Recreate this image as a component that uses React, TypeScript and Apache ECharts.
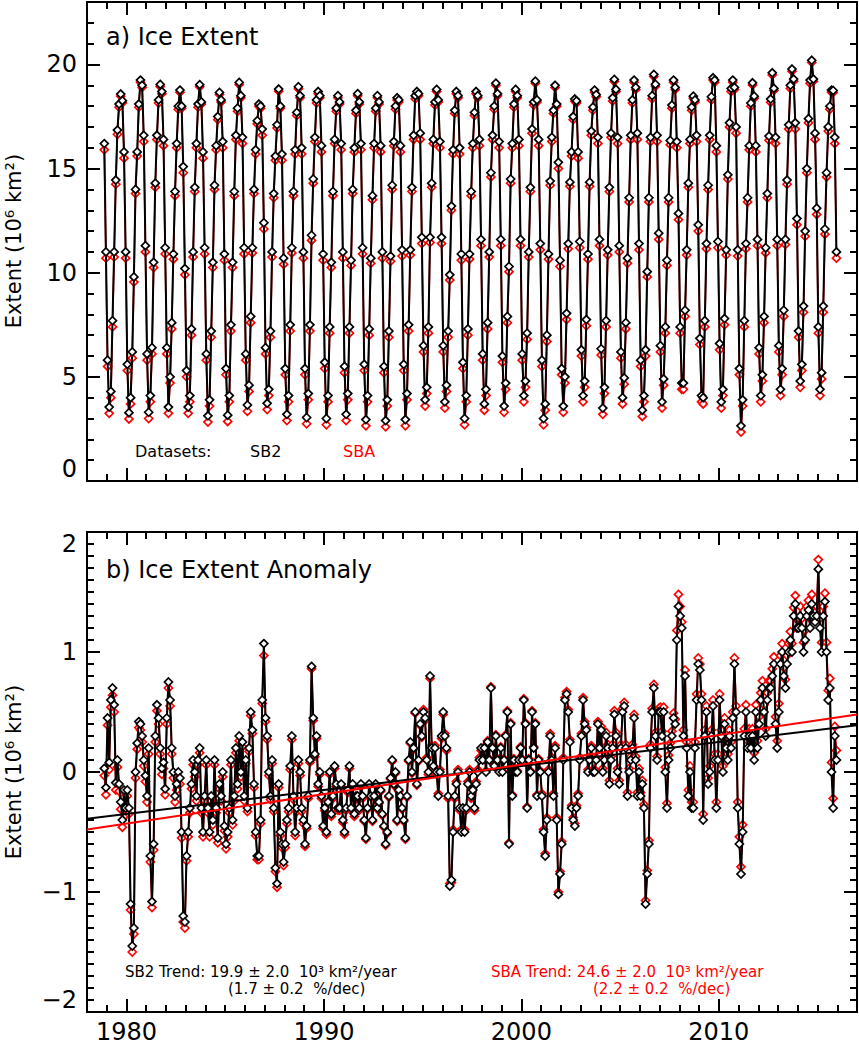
import React, { useEffect, useRef } from "react";
import * as echarts from "echarts";

// ---------------- data (monthly, Nov 1978 – Dec 2015) ----------------
const START_YEAR = 1978;
const START_MONTH_INDEX = 10; // November, 0-based

// Panel a: SB2 ice extent (10^6 km^2)
const EXTENT_SB2: number[] = [
  16.2, 11.0,
  5.8, 3.55, 4.3, 7.7, 11.0, 14.45, 16.85, 18.1, 18.58, 18.26, 15.8, 11.0,
  5.6, 3.28, 4.0, 6.2, 9.8, 14.0, 15.8, 18.1, 19.25, 19.0, 16.6, 11.3,
  6.1, 3.3, 4.1, 6.4, 10.5, 14.3, 16.6, 18.3, 19.04, 18.7, 16.4, 11.2,
  6.4, 3.55, 5.0, 7.6, 10.9, 13.9, 16.2, 18.0, 18.77, 18.0, 15.1, 10.2,
  5.3, 3.55, 4.1, 7.3, 11.0, 14.1, 16.2, 18.1, 19.03, 18.2, 15.8, 11.2,
  6.1, 3.13, 3.9, 7.2, 10.5, 14.2, 16.1, 17.5, 18.66, 18.3, 16.3, 10.9,
  5.4, 3.16, 4.1, 7.5, 10.5, 13.9, 16.6, 17.9, 19.14, 18.5, 16.5, 11.2,
  6.1, 3.65, 4.6, 7.9, 11.2, 14.0, 15.9, 17.3, 18.1, 18.0, 16.9, 12.4,
  6.4, 3.73, 4.4, 7.2, 11.0, 13.8, 15.6, 17.1, 18.82, 18.0, 15.7, 10.7,
  5.4, 3.2, 4.1, 7.5, 11.2, 13.9, 15.9, 17.7, 18.93, 18.5, 16.0, 11.0,
  5.4, 3.05, 4.2, 7.5, 11.8, 14.5, 16.5, 18.3, 18.7, 18.5, 16.1, 10.9,
  5.7, 3.0, 4.1, 7.4, 10.5, 13.9, 16.4, 17.9, 18.5, 18.2, 16.2, 11.0,
  5.5, 3.2, 4.2, 7.4, 10.6, 14.0, 16.0, 17.8, 18.6, 18.2, 16.2, 11.2,
  5.6, 2.95, 4.1, 7.3, 10.7, 13.7, 16.2, 17.9, 18.5, 18.2, 16.1, 11.0,
  5.5, 2.9, 3.9, 7.2, 10.8, 14.2, 16.3, 18.0, 18.4, 18.3, 16.1, 11.1,
  5.6, 2.95, 4.2, 7.5, 11.1, 14.1, 16.6, 18.5, 18.7, 18.6, 16.7, 11.7,
  6.5, 3.9, 4.5, 7.4, 11.7, 14.3, 16.4, 18.2, 18.8, 18.3, 16.3, 11.7,
  6.5, 3.8, 4.6, 7.2, 9.9, 13.2, 15.9, 17.8, 18.7, 18.5, 16.0, 10.9,
  5.7, 3.0, 4.1, 7.3, 10.9, 13.9, 16.2, 17.7, 18.7, 18.5, 16.4, 11.6,
  6.1, 3.7, 4.4, 7.6, 11.0, 14.8, 16.6, 18.0, 19.1, 18.6, 16.3, 11.6,
  6.0, 3.6, 4.7, 7.9, 10.3, 14.5, 16.2, 18.1, 18.8, 18.5, 16.4, 11.6,
  6.1, 4.1, 4.8, 7.1, 11.0, 14.1, 16.9, 18.2, 19.2, 18.3, 16.4, 11.4,
  5.8, 3.0, 3.7, 7.0, 10.9, 14.4, 16.5, 17.8, 19.0, 18.1, 15.3, 10.6,
  5.4, 3.6, 5.0, 8.05, 11.4, 14.35, 15.8, 17.5, 18.34, 18.25, 15.8, 11.5,
  6.3, 4.1, 4.8, 7.75, 10.9, 14.35, 16.8, 17.95, 18.77, 18.55, 16.5, 11.6,
  6.35, 3.5, 4.5, 7.7, 11.1, 14.1, 16.7, 18.4, 19.28, 18.8, 16.5, 11.3,
  6.2, 4.0, 4.95, 7.6, 10.7, 13.6, 16.6, 18.3, 19.25, 18.9, 16.7, 11.4,
  5.8, 3.4, 4.1, 6.3, 10.05, 13.6, 16.5, 18.5, 19.52, 19.05, 16.6, 11.9,
  6.5, 3.8, 4.9, 7.4, 10.6, 13.6, 16.35, 18.05, 19.25, 18.9, 16.3, 12.85,
  7.4, 4.7, 4.7, 8.2, 11.1, 14.3, 16.4, 17.95, 18.48, 18.3, 16.6, 12.3,
  6.85, 4.1, 4.0, 7.7, 11.4, 14.2, 16.6, 18.45, 19.36, 19.25, 16.1, 11.5,
  6.6, 3.8, 4.4, 7.8, 11.1, 14.7, 17.2, 18.85, 19.25, 18.9, 17.0, 11.1,
  5.4, 2.65, 3.9, 7.7, 11.4, 13.6, 16.1, 18.15, 19.12, 18.48, 16.1, 11.6,
  6.4, 4.1, 5.1, 7.9, 11.2, 13.8, 16.56, 18.34, 19.6, 18.85, 16.5, 11.6,
  6.5, 4.4, 5.4, 8.2, 11.6, 14.45, 17.1, 19.0, 19.78, 19.3, 17.2, 12.6,
  7.2, 4.8, 5.6, 8.4, 12.0, 15.0, 17.4, 19.25, 20.2, 19.3, 16.7, 13.1,
  7.4, 4.4, 5.2, 8.4, 12.1, 14.8, 17.0, 18.0, 18.77, 18.75, 16.5, 11.0,
];

// Panel a: SBA ice extent (10^6 km^2)
const EXTENT_SBA: number[] = [
  15.9, 10.7,
  5.5, 3.25, 4.0, 7.4, 10.75, 14.25, 16.65, 17.95, 18.48, 18.16, 15.5, 10.7,
  5.3, 2.98, 3.7, 5.9, 9.55, 13.8, 15.6, 17.95, 19.15, 18.9, 16.3, 11.0,
  5.8, 3.0, 3.8, 6.1, 10.25, 14.1, 16.4, 18.15, 18.94, 18.6, 16.1, 10.9,
  6.1, 3.25, 4.7, 7.3, 10.65, 13.7, 16.0, 17.85, 18.67, 17.9, 14.8, 9.9,
  5.0, 3.25, 3.8, 7.0, 10.75, 13.9, 16.0, 17.95, 18.93, 18.1, 15.5, 10.9,
  5.8, 2.83, 3.6, 6.9, 10.25, 14.0, 15.9, 17.35, 18.56, 18.2, 16.0, 10.6,
  5.1, 2.86, 3.8, 7.2, 10.25, 13.7, 16.4, 17.75, 19.04, 18.4, 16.2, 10.9,
  5.8, 3.35, 4.3, 7.6, 10.95, 13.8, 15.7, 17.15, 18.0, 17.9, 16.6, 12.1,
  6.1, 3.43, 4.1, 6.9, 10.75, 13.6, 15.4, 16.95, 18.72, 17.9, 15.4, 10.4,
  5.1, 2.9, 3.8, 7.2, 10.95, 13.7, 15.7, 17.55, 18.83, 18.4, 15.7, 10.7,
  5.1, 2.75, 3.9, 7.2, 11.55, 14.3, 16.3, 18.15, 18.6, 18.4, 15.8, 10.6,
  5.4, 2.7, 3.8, 7.1, 10.25, 13.7, 16.2, 17.75, 18.4, 18.1, 15.9, 10.7,
  5.2, 2.9, 3.9, 7.1, 10.35, 13.8, 15.8, 17.65, 18.5, 18.1, 15.9, 10.9,
  5.3, 2.65, 3.8, 7.0, 10.45, 13.5, 16.0, 17.75, 18.4, 18.1, 15.8, 10.7,
  5.2, 2.6, 3.6, 6.9, 10.55, 14.0, 16.1, 17.85, 18.3, 18.2, 15.8, 10.8,
  5.3, 2.65, 3.9, 7.2, 10.85, 13.9, 16.4, 18.35, 18.6, 18.5, 16.4, 11.4,
  6.2, 3.6, 4.2, 7.1, 11.45, 14.1, 16.2, 18.05, 18.7, 18.2, 16.0, 11.4,
  6.2, 3.5, 4.3, 6.9, 9.65, 13.0, 15.7, 17.65, 18.6, 18.4, 15.7, 10.6,
  5.4, 2.7, 3.8, 7.0, 10.65, 13.7, 16.0, 17.55, 18.6, 18.4, 16.1, 11.3,
  5.8, 3.4, 4.1, 7.3, 10.75, 14.6, 16.4, 17.85, 19.0, 18.5, 16.0, 11.3,
  5.7, 3.3, 4.4, 7.6, 10.05, 14.3, 16.0, 17.95, 18.7, 18.4, 16.1, 11.3,
  5.8, 3.8, 4.5, 6.8, 10.75, 13.9, 16.7, 18.05, 19.1, 18.2, 16.1, 11.1,
  5.5, 2.7, 3.4, 6.7, 10.65, 14.2, 16.3, 17.65, 18.9, 18.0, 15.0, 10.3,
  5.1, 3.3, 4.7, 7.75, 11.15, 14.15, 15.6, 17.35, 18.24, 18.15, 15.5, 11.2,
  6.0, 3.8, 4.5, 7.45, 10.65, 14.15, 16.6, 17.8, 18.67, 18.45, 16.2, 11.3,
  6.05, 3.2, 4.2, 7.4, 10.85, 13.9, 16.5, 18.25, 19.18, 18.7, 16.2, 11.0,
  5.9, 3.7, 4.65, 7.3, 10.45, 13.4, 16.4, 18.15, 19.15, 18.8, 16.4, 11.1,
  5.5, 3.1, 3.8, 6.0, 9.8, 13.4, 16.3, 18.35, 19.42, 18.95, 16.3, 11.6,
  6.2, 3.5, 4.6, 7.1, 10.35, 13.4, 16.15, 17.9, 19.15, 18.8, 16.0, 12.55,
  7.1, 4.4, 4.4, 7.9, 10.85, 14.1, 16.2, 17.8, 18.38, 18.2, 16.3, 12.0,
  6.55, 3.8, 3.7, 7.4, 11.15, 14.0, 16.4, 18.3, 19.26, 19.15, 15.8, 11.2,
  6.3, 3.5, 4.1, 7.5, 10.85, 14.5, 17.0, 18.7, 19.15, 18.8, 16.7, 10.8,
  5.1, 2.35, 3.6, 7.4, 11.15, 13.4, 15.9, 18.0, 19.02, 18.38, 15.8, 11.3,
  6.1, 3.8, 4.8, 7.6, 10.95, 13.6, 16.36, 18.19, 19.5, 18.75, 16.2, 11.3,
  6.2, 4.1, 5.1, 7.9, 11.35, 14.25, 16.9, 18.85, 19.68, 19.2, 16.9, 12.3,
  6.9, 4.5, 5.3, 8.1, 11.75, 14.8, 17.2, 19.1, 20.1, 19.2, 16.4, 12.8,
  7.1, 4.1, 4.9, 8.1, 11.85, 14.6, 16.8, 17.85, 18.67, 18.65, 16.2, 10.7,
];

// Panel b: SB2 extent anomaly (10^6 km^2)
const ANOMALY_SB2: number[] = [
  0.03, -0.13,
  0.45, 0.08, 0.6, 0.7, 0.56, -0.09, 0.1, -0.1, -0.25, -0.4, -0.15, -0.3,
  -0.15, -0.3, -1.1, -1.45, -1.3, 0.0, 0.24, 0.42, 0.4, 0.3, 0.1, -0.03,
  -0.2, 0.2, -0.7, -1.08, -0.6, 0.3, 0.56, 0.45, 0.2, 0.03, 0.08, -0.14,
  0.45, 0.75, 0.6, 0.2, 0.0, -0.2, -0.1, 0.0, -0.05, -0.5, -1.2, -1.25,
  -0.7, -0.5, -0.3, -0.1, 0.1, 0.0, -0.2, 0.1, 0.2, -0.3, -0.5, -0.2,
  0.1, -0.3, -0.5, -0.2, -0.4, 0.1, -0.3, -0.55, -0.1, -0.2, 0.0, -0.45,
  -0.6, -0.5, -0.3, 0.1, -0.4, -0.2, 0.2, -0.1, 0.3, 0.0, 0.25, -0.2,
  0.1, -0.3, 0.2, 0.5, 0.35, -0.1, -0.5, -0.7, -0.7, -0.4, 0.6, 1.07,
  0.45, 0.3, 0.0, -0.2, 0.1, -0.3, -0.8, -0.93, -0.1, -0.5, -0.6, -0.75,
  -0.6, -0.4, -0.3, 0.05, 0.3, -0.2, -0.5, -0.3, 0.1, 0.0, -0.3, -0.4,
  -0.6, -0.45, -0.2, 0.1, 0.88, 0.45, 0.15, 0.3, -0.1, 0.0, -0.2, -0.45,
  -0.3, -0.5, -0.25, 0.0, -0.35, -0.2, 0.05, -0.1, -0.3, -0.3, -0.1, -0.4,
  -0.5, -0.3, -0.15, 0.05, -0.3, -0.1, -0.35, -0.2, -0.2, -0.3, -0.1, -0.2,
  -0.4, -0.55, -0.3, -0.1, -0.2, -0.4, -0.2, -0.1, -0.3, -0.25, -0.15, -0.35,
  -0.45, -0.6, -0.5, -0.2, -0.05, 0.1, -0.1, 0.0, -0.4, -0.15, -0.2, -0.3,
  -0.4, -0.55, -0.2, 0.1, 0.25, 0.0, 0.2, 0.5, -0.1, 0.1, 0.4, 0.3,
  0.5, 0.45, 0.1, 0.0, 0.8, 0.2, 0.05, 0.2, 0.0, -0.2, 0.0, 0.3,
  0.5, 0.3, 0.2, -0.2, -0.95, -0.9, -0.5, -0.2, -0.1, 0.0, -0.3, -0.5,
  -0.3, -0.5, -0.3, -0.1, 0.0, -0.2, -0.15, -0.3, -0.1, 0.0, 0.1, 0.2,
  0.1, 0.2, 0.0, 0.25, 0.1, 0.7, 0.2, 0.05, 0.3, 0.1, 0.0, 0.2,
  0.0, 0.1, 0.3, 0.5, -0.6, 0.4, -0.2, 0.1, 0.0, 0.0, 0.1, 0.2,
  0.1, 0.6, 0.4, -0.3, 0.1, 0.0, 0.5, 0.2, 0.4, -0.2, 0.1, 0.0,
  -0.2, -0.5, -0.7, -0.4, 0.0, 0.3, 0.1, -0.2, 0.2, -0.4, -1.02, -0.85,
  -0.6, 0.1, 0.6, 0.65, 0.5, 0.25, -0.3, -0.4, -0.45, -0.3, -0.2, 0.1,
  0.3, 0.6, 0.4, 0.35, 0.0, 0.1, 0.2, 0.0, 0.0, 0.1, 0.4, 0.2,
  0.35, 0.0, 0.1, 0.3, 0.2, -0.1, 0.1, 0.2, 0.48, 0.3, 0.0, -0.1,
  0.2, 0.5, 0.55, 0.2, -0.2, 0.0, 0.1, 0.2, 0.45, 0.1, -0.2, 0.0,
  -0.2, -0.1, -0.3, -1.1, -0.85, -0.6, 0.2, 0.5, 0.7, 0.3, 0.1, 0.5,
  0.5, 0.3, 0.5, 0.0, -0.3, 0.1, 0.2, 0.3, 0.45, 0.4, 1.1, 1.38,
  1.3, 1.2, 0.3, 0.8, 0.2, -0.2, 0.0, -0.3, -0.3, 0.2, 0.6, 0.9,
  0.85, 0.6, -0.4, 0.3, 0.5, -0.1, 0.0, 0.3, 0.55, 0.1, -0.3, 0.1,
  0.6, 0.3, 0.0, 0.4, 0.2, 0.1, 0.3, 0.2, 0.45, 0.9, 0.5, -0.3,
  -0.6, -0.85, -0.5, 0.3, 0.5, 0.2, 0.3, 0.2, 0.3, 0.1, 0.5, 0.2,
  0.4, 0.6, 0.7, 0.5, 0.3, 0.6, 0.7, 0.7, 0.8, 0.9, 0.4, 0.2,
  0.5, 0.9, 1.0, 0.8, 0.7, 0.9, 1.0, 1.1, 1.0, 1.3, 1.4, 1.2,
  1.2, 1.3, 1.2, 1.0, 1.1, 1.3, 1.35, 1.2, 1.4, 1.3, 1.25, 1.3,
  1.69, 1.2, 1.0, 1.3, 1.42, 1.0, 0.6, 0.7, 0.0, -0.3, 0.3, 0.1,
];

// Panel b: SBA extent anomaly (10^6 km^2)
const ANOMALY_SBA: number[] = [
  -0.03, -0.19,
  0.39, 0.02, 0.54, 0.64, 0.5, -0.15, 0.04, -0.16, -0.31, -0.46, -0.21, -0.36,
  -0.2, -0.35, -1.15, -1.5, -1.35, -0.05, 0.19, 0.37, 0.35, 0.25, 0.05, -0.08,
  -0.25, 0.15, -0.75, -1.13, -0.65, 0.25, 0.51, 0.4, 0.15, -0.02, 0.03, -0.19,
  0.4, 0.7, 0.55, 0.15, -0.05, -0.25, -0.15, -0.05, -0.1, -0.55, -1.25, -1.3,
  -0.74, -0.54, -0.34, -0.14, 0.06, -0.04, -0.24, 0.06, 0.16, -0.34, -0.54, -0.24,
  0.06, -0.34, -0.54, -0.24, -0.44, 0.06, -0.34, -0.59, -0.14, -0.24, -0.04, -0.49,
  -0.64, -0.54, -0.34, 0.06, -0.44, -0.24, 0.16, -0.14, 0.26, -0.04, 0.21, -0.24,
  0.07, -0.33, 0.17, 0.47, 0.32, -0.13, -0.53, -0.73, -0.73, -0.43, 0.57, 0.97,
  0.42, 0.27, -0.03, -0.23, 0.07, -0.33, -0.83, -0.96, -0.13, -0.53, -0.63, -0.78,
  -0.63, -0.43, -0.33, 0.02, 0.27, -0.23, -0.53, -0.33, 0.07, -0.03, -0.33, -0.43,
  -0.62, -0.47, -0.22, 0.08, 0.86, 0.43, 0.13, 0.28, -0.12, -0.02, -0.22, -0.47,
  -0.32, -0.52, -0.27, -0.02, -0.37, -0.22, 0.03, -0.12, -0.32, -0.32, -0.12, -0.42,
  -0.52, -0.32, -0.17, 0.03, -0.32, -0.12, -0.37, -0.22, -0.22, -0.32, -0.12, -0.22,
  -0.41, -0.56, -0.31, -0.11, -0.21, -0.41, -0.21, -0.11, -0.31, -0.26, -0.16, -0.36,
  -0.46, -0.61, -0.51, -0.21, -0.06, 0.09, -0.11, -0.01, -0.41, -0.16, -0.21, -0.31,
  -0.41, -0.56, -0.21, 0.09, 0.24, -0.01, 0.19, 0.49, -0.11, 0.09, 0.39, 0.29,
  0.52, 0.43, 0.12, -0.02, 0.78, 0.22, 0.03, 0.22, -0.02, -0.18, 0.02, 0.28,
  0.48, 0.32, 0.18, -0.22, -0.93, -0.92, -0.48, -0.22, -0.08, 0.02, -0.32, -0.48,
  -0.32, -0.48, -0.32, -0.08, 0.02, -0.22, -0.13, -0.32, -0.08, 0.02, 0.12, 0.18,
  0.11, 0.21, 0.01, 0.26, 0.11, 0.71, 0.21, 0.06, 0.31, 0.11, 0.01, 0.21,
  0.01, 0.11, 0.31, 0.51, -0.59, 0.41, -0.19, 0.11, 0.01, 0.01, 0.11, 0.21,
  0.11, 0.61, 0.41, -0.29, 0.11, 0.01, 0.51, 0.21, 0.41, -0.19, 0.11, 0.01,
  -0.18, -0.48, -0.68, -0.38, 0.02, 0.32, 0.12, -0.18, 0.22, -0.38, -1.0, -0.83,
  -0.58, 0.12, 0.62, 0.67, 0.52, 0.27, -0.28, -0.38, -0.43, -0.28, -0.18, 0.12,
  0.32, 0.62, 0.42, 0.37, 0.02, 0.12, 0.22, 0.02, 0.02, 0.12, 0.42, 0.22,
  0.38, 0.03, 0.13, 0.33, 0.23, -0.07, 0.13, 0.23, 0.51, 0.33, 0.03, -0.07,
  0.23, 0.53, 0.58, 0.23, -0.17, 0.03, 0.13, 0.23, 0.48, 0.13, -0.17, 0.03,
  -0.17, -0.07, -0.27, -1.07, -0.82, -0.57, 0.23, 0.53, 0.73, 0.33, 0.13, 0.53,
  0.54, 0.34, 0.54, 0.04, -0.26, 0.14, 0.24, 0.34, 0.49, 0.44, 1.18, 1.48,
  1.38, 1.25, 0.35, 0.85, 0.25, -0.15, 0.05, -0.25, -0.25, 0.25, 0.65, 0.95,
  0.9, 0.65, -0.35, 0.35, 0.55, -0.05, 0.05, 0.35, 0.6, 0.15, -0.25, 0.15,
  0.65, 0.35, 0.05, 0.45, 0.25, 0.15, 0.35, 0.25, 0.5, 0.95, 0.55, -0.25,
  -0.54, -0.79, -0.44, 0.36, 0.56, 0.26, 0.36, 0.26, 0.36, 0.16, 0.56, 0.26,
  0.46, 0.66, 0.76, 0.56, 0.36, 0.66, 0.76, 0.76, 0.86, 0.96, 0.46, 0.26,
  0.57, 0.97, 1.07, 0.87, 0.77, 0.97, 1.07, 1.17, 1.07, 1.37, 1.47, 1.27,
  1.28, 1.38, 1.28, 1.08, 1.18, 1.38, 1.43, 1.28, 1.48, 1.38, 1.33, 1.38,
  1.77, 1.28, 1.08, 1.38, 1.49, 1.08, 0.68, 0.78, 0.08, -0.22, 0.38, 0.18,
];

// Linear trend lines (endpoints at the axis limits)
const TREND_SB2: number[][] = [[1978, -0.39], [2017, 0.39]];
const TREND_SBA: number[][] = [[1978, -0.48], [2017, 0.48]];

// Axes and tick labels
const X_MIN = 1978;
const X_MAX = 2017;
const YEAR_MAJOR = [1980, 1990, 2000, 2010];
const EXTENT_MIN = 0;
const EXTENT_MAX = 23;
const EXTENT_MAJOR = [0, 5, 10, 15, 20];
const ANOM_MIN = -2;
const ANOM_MAX = 2;
const ANOM_MAJOR = [-2, -1, 0, 1, 2];

const YEAR_MINOR = Array.from({ length: X_MAX - X_MIN - 1 }, (_, i) => X_MIN + 1 + i);
const EXTENT_MINOR = Array.from({ length: 22 }, (_, i) => i + 1);
const ANOM_MINOR = Array.from({ length: 39 }, (_, i) => Math.round((-1.9 + i * 0.1) * 10) / 10);

const TITLE_A = "a) Ice Extent";
const TITLE_B = "b) Ice Extent Anomaly";
const Y_NAME = "Extent (10\u2076 km\u00b2)";
const TREND_SB2_TEXT = ["SB2 Trend: 19.9 \u00b1 2.0  10\u00b3 km\u00b2/year", "(1.7 \u00b1 0.2  %/dec)"];
const TREND_SBA_TEXT = ["SBA Trend: 24.6 \u00b1 2.0  10\u00b3 km\u00b2/year", "(2.2 \u00b1 0.2  %/dec)"];

// ---------------- chart ----------------
const FONT = "'DejaVu Sans', sans-serif";
const BLACK = "#000000";
const RED = "#ff0000";

const monthX = (i: number) => START_YEAR + (START_MONTH_INDEX + i + 0.5) / 12;
const toPairs = (vals: number[]) => vals.map((v, i) => [monthX(i), v]);

const minus = (v: number) => String(v).replace("-", "\u2212");

function makeXAxes(grid: number, labels: boolean) {
  const mk = (pos: string, len: number, values: number[], showLabels: boolean) => ({
    type: "value",
    gridIndex: grid,
    min: X_MIN,
    max: X_MAX,
    position: pos,
    axisLine: { show: true, onZero: false, lineStyle: { color: BLACK, width: 2 } },
    axisTick: { show: true, inside: true, length: len, customValues: values, lineStyle: { color: BLACK, width: 2 } },
    axisLabel: showLabels
      ? { show: true, customValues: YEAR_MAJOR, margin: 8, color: BLACK, fontSize: 24, fontFamily: FONT, formatter: (v: number) => String(v) }
      : { show: false },
    splitLine: { show: false },
    minorTick: { show: false },
  });
  return [
    mk("bottom", 13, YEAR_MAJOR, labels),
    mk("bottom", 7, YEAR_MINOR, false),
    mk("top", 13, YEAR_MAJOR, false),
    mk("top", 7, YEAR_MINOR, false),
  ];
}

function makeYAxes(grid: number, min: number, max: number, major: number[], minor: number[], isAnom: boolean) {
  const mk = (pos: string, len: number, values: number[], showLabels: boolean) => ({
    type: "value",
    gridIndex: grid,
    min,
    max,
    position: pos,
    axisLine: { show: true, onZero: false, lineStyle: { color: BLACK, width: 2 } },
    axisTick: { show: true, inside: true, length: len, customValues: values, lineStyle: { color: BLACK, width: 2 } },
    axisLabel: showLabels
      ? {
          show: true,
          customValues: major,
          margin: 10,
          color: BLACK,
          fontSize: 24,
          fontFamily: FONT,
          formatter: (v: number) => minus(v),
          verticalAlignMinLabel: "bottom",
          verticalAlignMaxLabel: isAnom ? "top" : "middle",
        }
      : { show: false },
    splitLine: { show: false },
    minorTick: { show: false },
  });
  return [
    mk("left", 13, major, true),
    mk("left", 7, minor, false),
    mk("right", 13, major, false),
    mk("right", 7, minor, false),
  ];
}

function dataSeries(name: string, vals: number[], color: string, xi: number, yi: number, z: number) {
  return {
    name,
    type: "line",
    xAxisIndex: xi,
    yAxisIndex: yi,
    data: toPairs(vals),
    symbol: "diamond",
    symbolSize: 8,
    showSymbol: true,
    showAllSymbol: true,
    lineStyle: { color, width: color === BLACK ? 2 : 1.6 },
    itemStyle: { color: "#ffffff", borderColor: color, borderWidth: 1.7 },
    emphasis: { disabled: true },
    z,
    clip: true,
  };
}

function trendSeries(name: string, pts: number[][], color: string, z: number) {
  return {
    name,
    type: "line",
    xAxisIndex: 4,
    yAxisIndex: 4,
    data: pts,
    symbol: "none",
    lineStyle: { color, width: 2 },
    emphasis: { disabled: true },
    z,
  };
}

function txt(text: string, x: number, y: number, size: number, color = BLACK, extra: any = {}) {
  return {
    type: "text",
    x,
    y,
    z: 100,
    ...extra,
    style: { text, fill: color, fontSize: size, fontFamily: FONT, align: "left", verticalAlign: "middle", ...(extra.style || {}) },
  };
}

export default function App() {
  const ref = useRef<HTMLDivElement>(null);

  useEffect(() => {
    if (!ref.current) return;
    const chart = echarts.init(ref.current, null, { renderer: "svg" });

    const option: any = {
      animation: false,
      backgroundColor: "#ffffff",
      textStyle: { fontFamily: FONT },
      grid: [
        { left: 87, top: 2, width: 770, height: 479, outerBoundsMode: "none", containLabel: false },
        { left: 87, top: 532, width: 770, height: 480, outerBoundsMode: "none", containLabel: false },
      ],
      xAxis: [...makeXAxes(0, false), ...makeXAxes(1, true)],
      yAxis: [
        ...makeYAxes(0, EXTENT_MIN, EXTENT_MAX, EXTENT_MAJOR, EXTENT_MINOR, false),
        ...makeYAxes(1, ANOM_MIN, ANOM_MAX, ANOM_MAJOR, ANOM_MINOR, true),
      ],
      series: [
        dataSeries("SBA extent", EXTENT_SBA, RED, 0, 0, 2),
        dataSeries("SB2 extent", EXTENT_SB2, BLACK, 0, 0, 3),
        dataSeries("SBA anomaly", ANOMALY_SBA, RED, 4, 4, 2),
        dataSeries("SB2 anomaly", ANOMALY_SB2, BLACK, 4, 4, 3),
        trendSeries("SB2 trend", TREND_SB2, BLACK, 4),
        trendSeries("SBA trend", TREND_SBA, RED, 5),
      ],
      graphic: [
        txt(TITLE_A, 106, 37, 24),
        txt(TITLE_B, 106, 570, 24),
        txt("Datasets:", 135, 451, 16),
        txt("SB2", 250, 451, 16),
        txt("SBA", 343, 451, 16, RED),
        txt(TREND_SB2_TEXT[0], 125, 972, 15),
        txt(TREND_SB2_TEXT[1], 228, 989, 15),
        txt(TREND_SBA_TEXT[0], 491, 972, 15, RED),
        txt(TREND_SBA_TEXT[1], 593, 989, 15, RED),
        txt(Y_NAME, 14, 241, 21, BLACK, { rotation: Math.PI / 2, style: { align: "center" } }),
        txt(Y_NAME, 14, 772, 21, BLACK, { rotation: Math.PI / 2, style: { align: "center" } }),
      ],
    };

    chart.setOption(option);
    return () => chart.dispose();
  }, []);

  return (
    <div
      ref={ref}
      style={{ position: "absolute", left: 0, top: 0, width: 859, height: 1050, background: "#fff" }}
    />
  );
}
